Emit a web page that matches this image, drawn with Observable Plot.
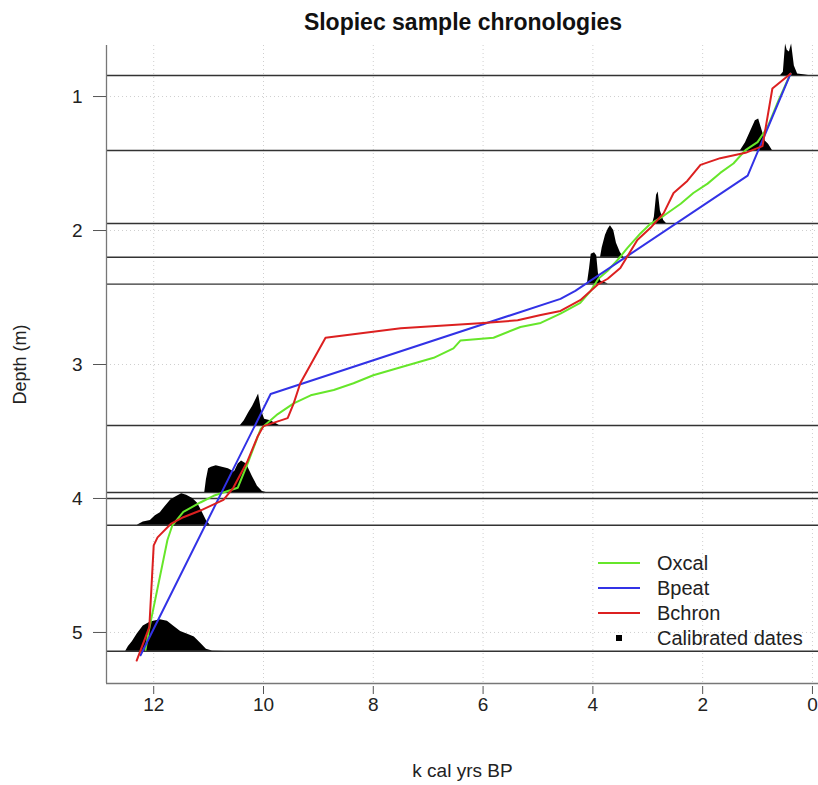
<!DOCTYPE html>
<html><head><meta charset="utf-8">
<script src="https://cdn.jsdelivr.net/npm/d3@7"></script>
<script src="https://cdn.jsdelivr.net/npm/@observablehq/plot@0.6"></script>
<style>
body{margin:0;background:#fff;font-family:"Liberation Sans",Arial,sans-serif;}
#wrap{position:relative;width:818px;height:785px;overflow:hidden;background:#fff;}
#title{position:absolute;left:106px;width:714px;top:9px;line-height:26px;text-align:center;font-weight:bold;font-size:23px;color:#111;}
#chart{position:absolute;left:0;top:40px;}
.lg{position:absolute;left:598px;height:24px;display:flex;align-items:center;font-size:20px;color:#222;white-space:nowrap;}
.lg svg{margin-right:17px;}
</style></head>
<body>
<div id="wrap">
  <div id="chart"></div>
  <div id="title">Slopiec sample chronologies</div>
  <div id="legend"></div>
</div>
<script>
// ---- data ----
const xTicks = [12, 10, 8, 6, 4, 2, 0];
const yTicks = [1, 2, 3, 4, 5];
const xDomain = [12.86, -0.11];
const yDomain = [0.619, 5.381];

// sample depths (m)
const sampleDepths = [0.843, 1.403, 1.948, 2.20, 2.40, 3.455, 3.955, 4.0, 4.20, 5.14];

// [age (k cal yrs BP), depth (m)]
const oxcal = [[0.40,0.83],[0.62,1.03],[0.82,1.23],[1.00,1.34],[1.22,1.40],[1.44,1.50],[1.68,1.57],[1.91,1.65],[2.17,1.72],[2.40,1.80],[2.71,1.89],[2.95,1.95],[3.13,2.02],[3.37,2.13],[3.55,2.22],[3.73,2.30],[3.90,2.36],[4.04,2.45],[4.23,2.54],[4.59,2.62],[4.95,2.69],[5.32,2.72],[5.81,2.80],[6.41,2.82],[6.54,2.88],[6.90,2.95],[7.50,3.02],[8.00,3.08],[8.36,3.14],[8.72,3.19],[9.14,3.23],[9.45,3.29],[9.74,3.37],[10.05,3.48],[10.18,3.62],[10.29,3.74],[10.47,3.92],[10.91,3.98],[11.15,4.03],[11.46,4.10],[11.66,4.20],[11.75,4.31],[12.09,4.99],[12.15,5.13]];
const bpeat = [[0.40,0.83],[1.18,1.59],[4.32,2.45],[4.59,2.51],[9.87,3.22],[12.24,5.17]];
const bchron = [[0.40,0.83],[0.73,0.94],[0.91,1.37],[1.22,1.42],[1.68,1.46],[2.04,1.51],[2.28,1.63],[2.53,1.72],[2.71,1.87],[2.95,1.98],[3.19,2.07],[3.50,2.28],[3.73,2.36],[3.90,2.40],[4.23,2.52],[4.59,2.60],[4.95,2.63],[5.37,2.67],[5.99,2.69],[7.50,2.73],[8.87,2.80],[9.33,3.14],[9.45,3.29],[9.56,3.40],[10.00,3.46],[10.11,3.54],[10.29,3.72],[10.55,3.92],[10.73,4.01],[11.15,4.09],[11.46,4.14],[11.69,4.19],[11.93,4.29],[12.00,4.35],[12.08,4.96],[12.31,5.21]];

// calibrated date densities: baseline depth and [age, relative height]
const dateDepths = [0.843, 1.403, 1.948, 2.20, 2.40, 3.455, 3.955, 4.20, 5.14];
const dateCurves = [
  [[0.58,0],[0.53,0.1],[0.49,1.0],[0.46,0.8],[0.42,0.75],[0.38,1.0],[0.33,0.3],[0.27,0.05],[0.13,0.02],[0.07,0]],
  [[1.31,0],[1.22,0.25],[1.13,0.6],[1.04,0.95],[0.98,1.0],[0.91,0.6],[0.86,0.3],[0.80,0.2],[0.73,0]],
  [[2.91,0],[2.88,0.2],[2.84,0.9],[2.81,1.0],[2.77,0.4],[2.71,0.1],[2.66,0]],
  [[3.86,0],[3.83,0.3],[3.77,0.7],[3.72,0.9],[3.68,1.0],[3.62,0.85],[3.57,0.45],[3.50,0.15],[3.44,0]],
  [[4.10,0],[4.06,0.5],[4.03,0.95],[3.97,1.0],[3.93,0.9],[3.90,0.35],[3.86,0.1],[3.75,0.03],[3.72,0]],
  [[10.42,0],[10.35,0.15],[10.27,0.4],[10.20,0.6],[10.13,0.85],[10.09,1.0],[10.04,0.5],[9.98,0.2],[9.87,0.15],[9.76,0.05],[9.71,0]],
  [[11.07,0],[11.04,0.4],[11.00,0.75],[10.95,0.8],[10.86,0.85],[10.75,0.8],[10.64,0.75],[10.53,0.65],[10.46,0.9],[10.40,1.0],[10.31,0.9],[10.20,0.5],[10.11,0.2],[10.02,0.03],[9.95,0]],
  [[12.30,0],[12.19,0.1],[12.06,0.15],[11.97,0.3],[11.88,0.4],[11.79,0.6],[11.69,0.8],[11.60,0.9],[11.49,1.0],[11.40,0.95],[11.29,0.85],[11.20,0.7],[11.11,0.4],[11.04,0.15],[10.97,0]],
  [[12.51,0],[12.46,0.15],[12.39,0.3],[12.30,0.55],[12.19,0.8],[12.06,0.93],[11.88,1.0],[11.75,0.95],[11.64,0.8],[11.51,0.63],[11.37,0.53],[11.26,0.45],[11.15,0.26],[11.04,0.06],[10.93,0.01],[10.69,0]]
];

const series = [
  {name: "Oxcal", data: oxcal, color: "#66e62a"},
  {name: "Bpeat", data: bpeat, color: "#3232e6"},
  {name: "Bchron", data: bchron, color: "#dc2020"}
];

// ---- build ----
const densityHeight = 0.235; // m, max height of each density
const densityRows = [];
dateCurves.forEach((curve, i) => {
  curve.forEach(([age, h]) => densityRows.push({id: i, age, base: dateDepths[i], top: dateDepths[i] - h * densityHeight}));
});

const font = '"Liberation Sans", Arial, sans-serif';
const chart = Plot.plot({
  width: 818,
  height: 745,
  marginTop: 5,
  marginBottom: 102,
  marginLeft: 106,
  marginRight: 0,
  style: {fontFamily: font, fontSize: "19px", color: "#222", background: "white", overflow: "visible"},
  x: {domain: xDomain, ticks: xTicks, label: null},
  y: {domain: yDomain, reverse: true, ticks: yTicks, label: null},
  marks: [
    Plot.ruleX(xTicks, {stroke: "#cfcfcf", strokeDasharray: "1,3"}),
    Plot.ruleY(yTicks, {stroke: "#cfcfcf", strokeDasharray: "1,3"}),
    Plot.ruleY(sampleDepths, {stroke: "#333", strokeWidth: 1.4}),
    Plot.areaY(densityRows, {x: "age", y1: "base", y2: "top", z: "id", fill: "black"}),
    ...series.map(s => Plot.line(s.data, {x: d => d[0], y: d => d[1], stroke: s.color, strokeWidth: 2})),
    Plot.ruleX([xDomain[0]], {stroke: "#777", strokeWidth: 1.3}),
    Plot.ruleY([yDomain[1]], {stroke: "#777", strokeWidth: 1.3}),
    Plot.axisX({ticks: xTicks, tickSize: 8, tickPadding: 3, dy: 3, stroke: "#555", fontSize: 19, tickFormat: d => String(d)}),
    Plot.axisY({ticks: yTicks, tickSize: 13, tickPadding: 11, stroke: "#555", fontSize: 19, tickFormat: d => String(d)}),
    Plot.text(["k cal yrs BP"], {frameAnchor: "bottom", lineAnchor: "middle", textAnchor: "middle", dy: 87, fontSize: 19, fill: "#222"}),
    Plot.text(["Depth (m)"], {frameAnchor: "left", textAnchor: "middle", lineAnchor: "middle", dx: -86, rotate: -90, fontSize: 18, fill: "#222"})
  ]
});
document.getElementById("chart").appendChild(chart);

// legend
const legend = document.getElementById("legend");
const rowsY = [563, 588, 613, 638];
series.forEach((s, i) => {
  const div = document.createElement("div");
  div.className = "lg";
  div.style.top = (rowsY[i] - 12) + "px";
  div.innerHTML = `<svg width="42" height="20"><line x1="0" x2="42" y1="10" y2="10" stroke="${s.color}" stroke-width="2"/></svg><span>${s.name}</span>`;
  legend.appendChild(div);
});
const cd = document.createElement("div");
cd.className = "lg";
cd.style.top = (rowsY[3] - 12) + "px";
cd.innerHTML = `<svg width="42" height="20"><rect x="18" y="7" width="6" height="6" fill="black"/></svg><span>Calibrated dates</span>`;
legend.appendChild(cd);
</script>
</body></html>
